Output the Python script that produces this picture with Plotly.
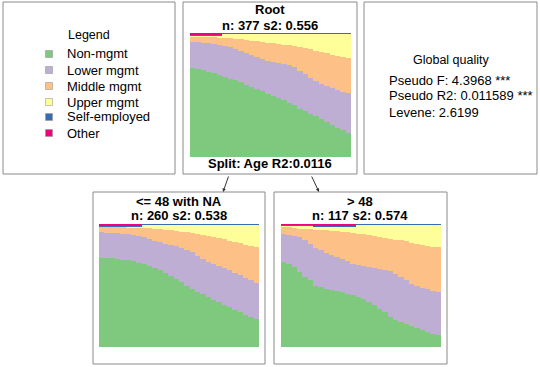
import plotly.graph_objects as go

W, H = 540, 367
FONT = "Liberation Sans, Arial, sans-serif"

states = ["Non-mgmt", "Lower mgmt", "Middle mgmt", "Upper mgmt", "Self-employed", "Other"]
colors = ["#7FC97F", "#BEAED4", "#FDC086", "#FFFF99", "#386CB0", "#F0027F"]
time_points = list(range(1, 31))

# ---- Root node (n=377) ----
root_nonmgmt = [0.718,0.710,0.700,0.689,0.676,0.665,0.649,0.633,0.617,0.601,0.584,0.568,0.550,0.531,0.512,
                0.496,0.477,0.458,0.437,0.416,0.391,0.370,0.349,0.327,0.303,0.282,0.257,0.236,0.214,0.196]
root_lower = [0.210,0.215,0.222,0.228,0.236,0.241,0.249,0.254,0.257,0.257,0.255,0.252,0.254,0.260,0.265,
              0.271,0.282,0.293,0.303,0.308,0.306,0.300,0.289,0.284,0.287,0.289,0.298,0.306,0.314,0.321]
root_middle = [0.047,0.048,0.048,0.053,0.056,0.059,0.064,0.073,0.080,0.091,0.105,0.118,0.129,0.137,0.145,
               0.150,0.153,0.155,0.161,0.171,0.190,0.209,0.231,0.247,0.257,0.265,0.271,0.276,0.282,0.285]
root_upper = [0.003,0.005,0.008,0.008,0.010,0.013,0.030,0.032,0.038,0.043,0.048,0.054,0.059,0.064,0.070,
              0.075,0.080,0.086,0.091,0.097,0.105,0.113,0.123,0.134,0.145,0.156,0.166,0.174,0.182,0.190]
root_self = [0.009]*6 + [0.008]*24
root_other = [0.013]*6 + [0.000]*24

# ---- Left child: <= 48 with NA (n=260) ----
left_nonmgmt = [0.727,0.724,0.722,0.716,0.711,0.705,0.697,0.686,0.673,0.657,0.641,0.622,0.600,0.578,0.554,
                0.527,0.500,0.473,0.451,0.430,0.408,0.386,0.365,0.343,0.322,0.300,0.281,0.262,0.246,0.230]
left_lower = [0.205,0.206,0.205,0.208,0.211,0.211,0.214,0.217,0.219,0.221,0.224,0.229,0.241,0.252,0.265,
              0.281,0.292,0.297,0.292,0.286,0.287,0.290,0.292,0.298,0.302,0.305,0.305,0.303,0.297,0.292]
left_middle = [0.046,0.048,0.049,0.052,0.054,0.059,0.062,0.067,0.076,0.087,0.097,0.108,0.113,0.119,0.124,
               0.130,0.140,0.154,0.176,0.195,0.208,0.219,0.229,0.235,0.241,0.249,0.257,0.267,0.281,0.294]
left_upper = [0.002,0.002,0.004,0.004,0.004,0.005,0.007,0.010,0.024,0.027,0.030,0.033,0.038,0.043,0.049,
              0.054,0.060,0.068,0.073,0.081,0.089,0.097,0.106,0.116,0.127,0.138,0.149,0.160,0.168,0.176]
left_self = [0.008]*30
left_other = [0.012]*8 + [0.000]*22

# ---- Right child: > 48 (n=117) ----
right_nonmgmt = [0.691,0.677,0.651,0.610,0.570,0.543,0.497,0.484,0.470,0.460,0.452,0.444,0.433,0.422,0.409,
                 0.390,0.368,0.341,0.309,0.282,0.247,0.218,0.202,0.185,0.169,0.153,0.137,0.121,0.108,0.094]
right_lower = [0.228,0.237,0.255,0.282,0.304,0.296,0.307,0.301,0.296,0.290,0.282,0.274,0.263,0.253,0.255,
               0.266,0.280,0.301,0.328,0.347,0.369,0.379,0.368,0.358,0.347,0.344,0.344,0.347,0.349,0.355]
right_middle = [0.059,0.059,0.062,0.070,0.086,0.118,0.150,0.167,0.183,0.196,0.207,0.220,0.237,0.252,0.258,
                0.261,0.263,0.264,0.261,0.261,0.266,0.277,0.296,0.315,0.333,0.344,0.352,0.357,0.360,0.360]
right_upper = [0.012,0.017,0.022,0.028,0.030,0.033,0.028,0.030,0.033,0.036,0.041,0.044,0.049,0.055,0.070,
               0.075,0.081,0.086,0.094,0.102,0.110,0.118,0.126,0.134,0.143,0.151,0.159,0.167,0.175,0.183]
right_self = [0.008]*30
right_other = [0.002]*6 + [0.010]*8 + [0.000]*16

root_title = "Root"
root_stats = "n: 377 s2: 0.556"
left_title = "<= 48 with NA"
left_stats = "n: 260 s2: 0.538"
right_title = "> 48"
right_stats = "n: 117 s2: 0.574"
split_label = "Split: Age R2:0.0116"
quality_title = "Global quality"
quality_lines = ["Pseudo F: 4.3968 ***", "Pseudo R2: 0.011589 ***", "Levene: 2.6199"]


def px(x):
    return x / W


def py(y):
    return 1 - y / H


fig = go.Figure()

panels = [
    ("", [root_nonmgmt, root_lower, root_middle, root_upper, root_self, root_other], (190, 351, 33, 157)),
    ("2", [left_nonmgmt, left_lower, left_middle, left_upper, left_self, left_other], (99, 259, 224, 347)),
    ("3", [right_nonmgmt, right_lower, right_middle, right_upper, right_self, right_other], (281, 441, 224, 347)),
]

layout_axes = {}
for suffix, series, (x0, x1, y0, y1) in panels:
    for name, vals, col in zip(states, series, colors):
        fig.add_trace(go.Bar(
            x=time_points, y=vals, name=name, marker=dict(color=col, line=dict(width=0)),
            xaxis="x" + suffix, yaxis="y" + suffix, showlegend=False, hoverinfo="skip",
        ))
    layout_axes["xaxis" + suffix] = dict(domain=[px(x0), px(x1)], range=[0.5, 30.5], visible=False,
                                         anchor="y" + suffix, fixedrange=True)
    layout_axes["yaxis" + suffix] = dict(domain=[py(y1), py(y0)], range=[0, 1], visible=False,
                                         anchor="x" + suffix, fixedrange=True)

shapes = []
box_col = "#8a8a8a"
for (x0, y0, x1, y1) in [(3, 2, 175, 174), (183, 2, 357, 174), (364, 2, 537, 174),
                         (93, 192, 265, 364), (274, 192, 447, 364)]:
    shapes.append(dict(type="rect", xref="paper", yref="paper", x0=px(x0), x1=px(x1), y0=py(y1), y1=py(y0),
                       line=dict(color=box_col, width=1), fillcolor="rgba(0,0,0,0)"))

annotations = []


def text(t, x, y, size=13, bold=False, xanchor="center"):
    annotations.append(dict(text=("<b>%s</b>" % t) if bold else t, x=px(x), y=py(y), xref="paper", yref="paper",
                            showarrow=False, xanchor=xanchor, yanchor="middle", borderpad=0,
                            font=dict(family=FONT, size=size, color="#000")))


text(root_title, 270, 10, bold=True)
text(root_stats, 270, 25, bold=True)
text(split_label, 270, 164, bold=True)
text(left_title, 179, 201, bold=True)
text(left_stats, 179, 215, bold=True)
text(right_title, 360, 201, bold=True)
text(right_stats, 360, 215, bold=True)

# Legend panel
text("Legend", 89, 35, size=12.5)
leg_y = [54, 70, 86, 102, 117, 133]
for name, col, yy in zip(states, colors, leg_y):
    shapes.append(dict(type="rect", xref="paper", yref="paper", x0=px(45.5), x1=px(52.5), y0=py(yy + 3.5),
                       y1=py(yy - 3.5), line=dict(color="#999", width=0.6), fillcolor=col))
    text(name, 66, yy, size=13, xanchor="left")

# Global quality panel
text(quality_title, 451, 60, size=12.5)
for i, line in enumerate(quality_lines):
    text(line, 388, 80 + 16 * i, size=13, xanchor="left")

# Arrows
for (tx, ty, hx, hy) in [(229, 175, 223, 192), (311, 175, 319, 192)]:
    annotations.append(dict(x=px(hx), y=py(hy), xref="paper", yref="paper", ax=tx - hx, ay=ty - hy,
                            axref="pixel", ayref="pixel", showarrow=True, arrowhead=2, arrowsize=0.7,
                            arrowwidth=1, arrowcolor="#333", text=""))

fig.update_layout(
    width=W, height=H, margin=dict(l=0, r=0, t=0, b=0), paper_bgcolor="white", plot_bgcolor="white",
    barmode="stack", bargap=0, showlegend=False, shapes=shapes, annotations=annotations,
    **layout_axes,
)

fig.write_html("out.html", config={"displayModeBar": False},
               post_script="document.body.style.margin='0';document.body.style.padding='0';"
                           "document.documentElement.style.overflow='hidden';")
